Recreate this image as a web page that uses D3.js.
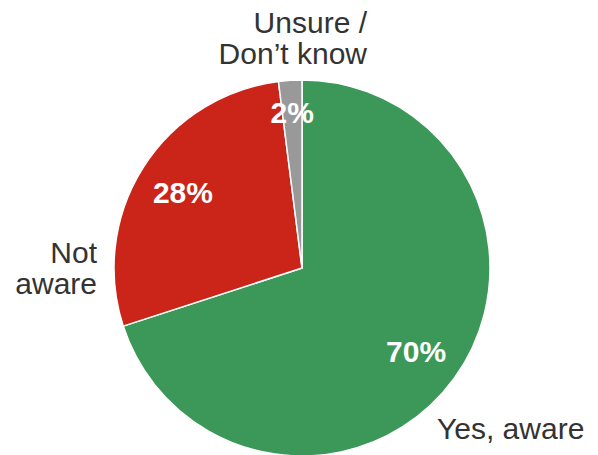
<!DOCTYPE html>
<html>
<head>
<meta charset="utf-8">
<script src="https://cdn.jsdelivr.net/npm/d3@7"></script>
<style>
  html, body { margin: 0; padding: 0; background: #fff; }
  svg { display: block; font-family: "Liberation Sans", Arial, Helvetica, sans-serif; }
</style>
</head>
<body>
<svg id="chart" width="598" height="455"></svg>
<script>
// Awareness survey shares, clockwise from 12 o'clock
const categories = ["Yes, aware", "Not aware", "Unsure / Don\u2019t know"];
const shares = [70, 28, 2];
const percentLabels = ["70%", "28%", "2%"];

const colors = ["#3c9858", "#cb2418", "#999999"];
// Radial position of each percentage label, as a fraction of the radius
const labelRadius = [0.75, 0.75, 0.83];

const width = 598, height = 455;
const cx = 302, cy = 268, radius = 188;

const svg = d3.select("#chart");
const g = svg.append("g").attr("transform", `translate(${cx},${cy})`);

const pie = d3.pie().sort(null).value(d => d.value);
const arcs = pie(categories.map((c, i) => ({ name: c, value: shares[i], i })));

const arc = d3.arc().innerRadius(0).outerRadius(radius);

g.selectAll("path.slice")
  .data(arcs)
  .join("path")
  .attr("class", "slice")
  .attr("d", arc)
  .attr("fill", d => colors[d.data.i])
  .attr("stroke", "#fff")
  .attr("stroke-width", 1.5)
  .attr("stroke-linejoin", "round");

// Percentages inside the slices
g.selectAll("text.pct")
  .data(arcs)
  .join("text")
  .attr("class", "pct")
  .attr("transform", d => {
    const r = radius * labelRadius[d.data.i];
    const a = (d.startAngle + d.endAngle) / 2;
    return `translate(${Math.sin(a) * r},${-Math.cos(a) * r})`;
  })
  .attr("text-anchor", "middle")
  .attr("dy", "0.36em")
  .attr("fill", "#fff")
  .attr("font-weight", "bold")
  .attr("font-size", 30)
  .text(d => percentLabels[d.data.i]);

// Category names outside the pie
const nameLayout = [
  { lines: ["Yes, aware"], x: 437, y: 439, anchor: "start" },
  { lines: ["Not", "aware"], x: 97, y: 263, anchor: "end" },
  { lines: ["Unsure /", "Don\u2019t know"], x: 367, y: 33, anchor: "end" }
];
const lineHeight = 31;

nameLayout.forEach((L, i) => {
  const t = svg.append("text")
    .attr("x", L.x)
    .attr("y", L.y)
    .attr("text-anchor", L.anchor)
    .attr("fill", "#333")
    .attr("font-size", 30);
  L.lines.forEach((ln, j) => {
    t.append("tspan")
      .attr("x", L.x)
      .attr("dy", j === 0 ? 0 : lineHeight)
      .text(ln);
  });
});
</script>
</body>
</html>
